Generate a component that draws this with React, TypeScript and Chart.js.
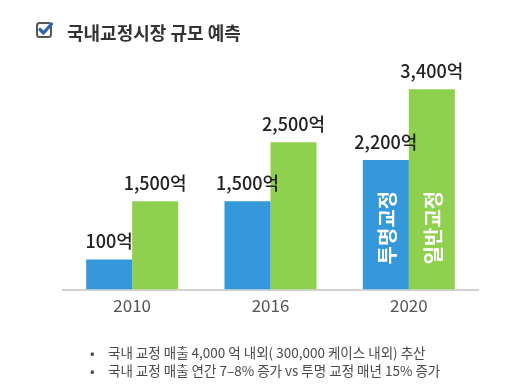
import React, { useEffect, useRef } from "react";
import { Chart, registerables } from "chart.js";

Chart.register(...registerables);

const categories = ["2010", "2016", "2020"];
const clearAligner = [100, 1500, 2200];
const generalOrtho = [1500, 2500, 3400];
const seriesNames = ["투명교정", "일반교정"];
const unit = "억";
const title = "국내교정시장 규모 예측";
const notes = [
  "국내 교정 매출 4,000 억 내외( 300,000 케이스 내외) 추산",
  "국내 교정 매출 연간 7–8% 증가 vs 투명 교정 매년 15% 증가",
];

const FONT = "'Noto Sans CJK KR', 'Noto Sans', sans-serif";

const labelPlugin = {
  id: "barLabels",
  afterDatasetsDraw(chart: any) {
    const ctx = chart.ctx;
    ctx.save();
    chart.data.datasets.forEach((ds: any, i: number) => {
      const meta = chart.getDatasetMeta(i);
      meta.data.forEach((bar: any, j: number) => {
        const v = ds.data[j];
        ctx.font = `500 18px ${FONT}`;
        ctx.fillStyle = "#222";
        ctx.textAlign = "center";
        ctx.textBaseline = "middle";
        ctx.fillText(v.toLocaleString("en-US") + unit, bar.x, bar.y - 18);
      });
      const last = meta.data[meta.data.length - 1];
      if (last) {
        ctx.save();
        ctx.translate(last.x + 2, last.base - 62);
        ctx.rotate(-Math.PI / 2);
        ctx.font = `bold 20px ${FONT}`;
        ctx.fillStyle = "#ffffff";
        ctx.textAlign = "center";
        ctx.textBaseline = "middle";
        ctx.fillText(ds.label, 0, 0);
        ctx.restore();
      }
    });
    ctx.restore();
  },
};

function ChartCanvas() {
  const ref = useRef<HTMLCanvasElement | null>(null);
  useEffect(() => {
    if (!ref.current) return;
    const chart = new Chart(ref.current, {
      type: "bar",
      data: {
        labels: categories,
        datasets: [
          {
            label: seriesNames[0],
            data: clearAligner,
            backgroundColor: "#3498db",
            minBarLength: 30,
            barPercentage: 1,
            categoryPercentage: 0.665,
          },
          {
            label: seriesNames[1],
            data: generalOrtho,
            backgroundColor: "#8fd14f",
            barPercentage: 1,
            categoryPercentage: 0.665,
          },
        ],
      },
      options: {
        responsive: false,
        animation: false,
        layout: { padding: { left: 63, right: 48, top: 54, bottom: 70 } },
        plugins: { legend: { display: false }, tooltip: { enabled: false } },
        scales: {
          x: {
            grid: { display: false, drawTicks: false },
            border: { display: true, color: "#d3d3d3", width: 2 },
            ticks: { color: "#555", padding: 6, font: { family: FONT, size: 17 } },
          },
          y: { display: false, min: 0, max: 4000 },
        },
      },
      plugins: [labelPlugin],
    });
    return () => chart.destroy();
  }, []);
  return <canvas ref={ref} width={526} height={392} style={{ position: "absolute", left: 0, top: 0 }} />;
}

export default function App() {
  return (
    <div style={{ position: "absolute", left: 0, top: 0, width: 526, height: 392, background: "#fff", overflow: "hidden", fontFamily: FONT }}>
      <ChartCanvas />
      <svg width="20" height="20" style={{ position: "absolute", left: 34, top: 19 }} viewBox="0 0 20 20">
        <rect x="3" y="4" width="14" height="14" rx="2.5" ry="2.5" fill="none" stroke="#555" strokeWidth="2" />
        <path d="M6 10.5 L9.5 14 L17.5 5" fill="none" stroke="#2b63b6" strokeWidth="3.2" strokeLinecap="round" strokeLinejoin="round" />
      </svg>
      <div style={{ position: "absolute", left: 67, top: 21, fontSize: 18, fontWeight: 700, color: "#333", lineHeight: "22px", whiteSpace: "nowrap" }}>
        {title}
      </div>
      {notes.map((n, i) => (
        <div key={i} style={{ position: "absolute", left: 90, top: 343 + i * 18, fontSize: 13.5, color: "#4a4a4a", lineHeight: "18px", whiteSpace: "nowrap" }}>
          <span style={{ display: "inline-block", width: 18 }}>•</span>
          {n}
        </div>
      ))}
    </div>
  );
}
